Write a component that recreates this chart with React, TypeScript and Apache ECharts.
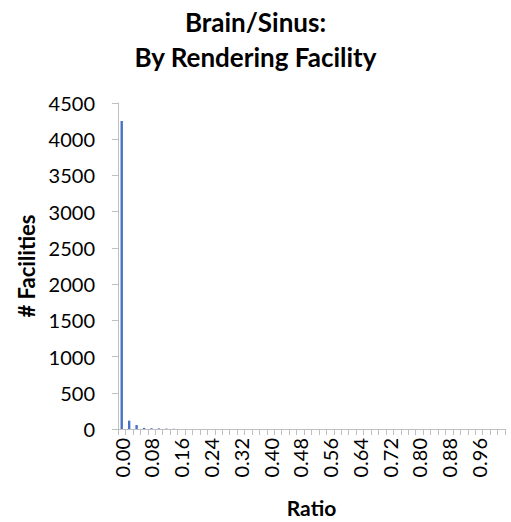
import React, { useEffect, useRef } from "react";
import * as echarts from "echarts";

const categories = [
  "0.00", "0.02", "0.04", "0.06", "0.08", "0.10", "0.12", "0.14", "0.16", "0.18",
  "0.20", "0.22", "0.24", "0.26", "0.28", "0.30", "0.32", "0.34", "0.36", "0.38",
  "0.40", "0.42", "0.44", "0.46", "0.48", "0.50", "0.52", "0.54", "0.56", "0.58",
  "0.60", "0.62", "0.64", "0.66", "0.68", "0.70", "0.72", "0.74", "0.76", "0.78",
  "0.80", "0.82", "0.84", "0.86", "0.88", "0.90", "0.92", "0.94", "0.96", "0.98",
  "1.00", "1.02",
];

const facilities = [
  4250, 115, 55, 15, 10, 8, 5, 3, 0, 0,
  0, 0, 0, 0, 0, 0, 0, 0, 0, 0,
  0, 0, 0, 0, 0, 0, 0, 0, 0, 0,
  0, 0, 0, 0, 0, 0, 0, 0, 0, 0,
  0, 0, 0, 0, 0, 0, 0, 0, 0, 0,
  0, 0,
];

const yTicks = [0, 500, 1000, 1500, 2000, 2500, 3000, 3500, 4000, 4500];

const FONT = "Lato, 'Open Sans', sans-serif";

export default function App() {
  const ref = useRef<HTMLDivElement>(null);
  useEffect(() => {
    if (!ref.current) return;
    const chart = echarts.init(ref.current, undefined, { renderer: "svg" });
    chart.setOption({
      animation: false,
      backgroundColor: "#ffffff",
      title: {
        text: "Brain/Sinus:\nBy Rendering Facility",
        left: "center",
        top: -1,
        textStyle: {
          fontFamily: FONT,
          fontWeight: "bold",
          fontSize: 26,
          lineHeight: 35,
          color: "#000",
        },
      },
      grid: {
        left: 118,
        right: 6,
        top: 103,
        bottom: 93,
        containLabel: false,
        outerBoundsMode: "none",
      },
      xAxis: {
        type: "category",
        data: categories,
        name: "Ratio",
        nameLocation: "middle",
        nameGap: 68,
        nameTextStyle: { fontFamily: FONT, fontWeight: "bold", fontSize: 21, color: "#000" },
        axisLine: { show: true, lineStyle: { color: "#BFBFBF", width: 1 } },
        axisTick: { show: true, alignWithLabel: false, interval: 0, length: 6, lineStyle: { color: "#BFBFBF" } },
        axisLabel: {
          interval: 3,
          rotate: 90,
          fontFamily: FONT,
          fontSize: 20,
          color: "#000",
          margin: 9,
        },
        splitLine: { show: false },
      },
      yAxis: {
        type: "value",
        min: yTicks[0],
        max: yTicks[yTicks.length - 1],
        interval: 500,
        name: "# Facilities",
        nameLocation: "middle",
        nameRotate: 90,
        nameGap: 77,
        nameTextStyle: { fontFamily: FONT, fontWeight: "bold", fontSize: 22, color: "#000" },
        axisLine: { show: true, lineStyle: { color: "#BFBFBF", width: 1 } },
        axisTick: { show: true, length: 6, inside: false, lineStyle: { color: "#BFBFBF" } },
        axisLabel: {
          fontFamily: FONT,
          fontSize: 20,
          color: "#000",
          margin: 23,
          formatter: (v: number) => String(v),
        },
        splitLine: { show: false },
      },
      series: [
        {
          type: "bar",
          data: facilities,
          barWidth: "32%",
          itemStyle: { color: "#4472C4" },
        },
      ],
    });
    return () => chart.dispose();
  }, []);
  return (
    <div
      ref={ref}
      style={{ position: "fixed", left: 0, top: 0, width: 511, height: 522 }}
    />
  );
}
